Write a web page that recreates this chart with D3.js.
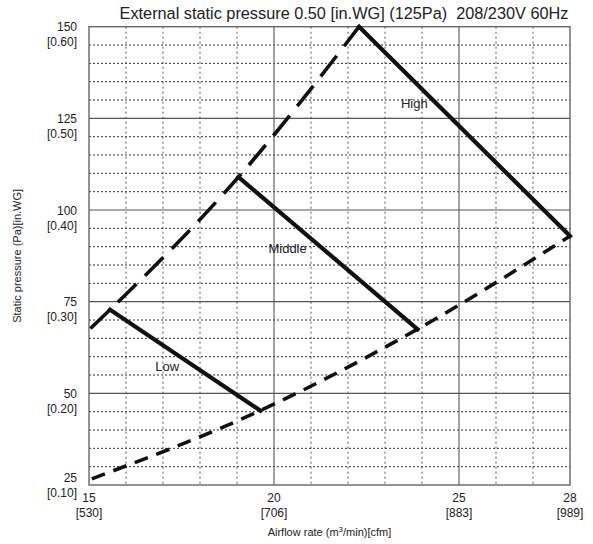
<!DOCTYPE html>
<html>
<head>
<meta charset="utf-8">
<script src="https://cdn.jsdelivr.net/npm/d3@7"></script>
<style>
  body { margin: 0; background: #fff; }
  svg { font-family: "Liberation Sans", Arial, sans-serif; }
</style>
</head>
<body>
<svg width="593" height="544"></svg>
<script>
// curve data: [airflow m3/min, static pressure Pa]
const high = [[22.3, 150], [28, 92.9]];
const middle = [[19.04, 109], [23.88, 67.5]];
const low = [[15.57, 72.8], [19.63, 45.3]];
const upperLimit = [[15, 67.3], [15.57, 72.8], [19.04, 109], [22.3, 150]];
const lowerLimit = [[15, 26.4], [19.63, 45.3], [23.88, 67.5], [28, 92.9]];

const xTicks = [15, 20, 25, 28];
const xTickCfm = ["[530]", "[706]", "[883]", "[989]"];
const yTicks = [25, 50, 75, 100, 125, 150];
const yTickWG = ["[0.10]", "[0.20]", "[0.30]", "[0.40]", "[0.50]", "[0.60]"];

const curveLabels = [
  { text: "High", x: 23.43, y: 127.8 },
  { text: "Middle", x: 19.85, y: 88.3 },
  { text: "Low", x: 16.79, y: 56.1 }
];

const svg = d3.select("svg");
const margin = { top: 26.7, right: 23, bottom: 59, left: 89 };
const width = +svg.attr("width") - margin.left - margin.right;
const height = +svg.attr("height") - margin.top - margin.bottom;

const x = d3.scaleLinear().domain([15, 28]).range([0, width]);
const y = d3.scaleLinear().domain([25, 150]).range([height, 0]);

svg.append("text")
  .attr("x", 344)
  .attr("y", 19)
  .attr("text-anchor", "middle")
  .attr("font-size", 16.3)
  .attr("fill", "#222")
  .style("white-space", "pre")
  .text("External static pressure 0.50 [in.WG] (125Pa)  208/230V 60Hz");

const g = svg.append("g")
  .attr("transform", `translate(${margin.left},${margin.top})`);

// dotted minor grid
const minorX = d3.range(16, 28).filter((d) => d % 5 !== 0);
const minorY = d3.range(30, 150, 5).filter((d) => d % 25 !== 0);

g.selectAll(".vminor")
  .data(minorX)
  .enter()
  .append("line")
  .attr("x1", (d) => x(d))
  .attr("x2", (d) => x(d))
  .attr("y1", 0)
  .attr("y2", height)
  .attr("stroke", "#555")
  .attr("stroke-width", 1)
  .attr("stroke-dasharray", "2,3");

g.selectAll(".hminor")
  .data(minorY)
  .enter()
  .append("line")
  .attr("x1", 0)
  .attr("x2", width)
  .attr("y1", (d) => y(d))
  .attr("y2", (d) => y(d))
  .attr("stroke", "#333")
  .attr("stroke-width", 1)
  .attr("stroke-dasharray", "2,2");

// solid major grid
g.selectAll(".vmajor")
  .data([20, 25])
  .enter()
  .append("line")
  .attr("x1", (d) => x(d))
  .attr("x2", (d) => x(d))
  .attr("y1", 0)
  .attr("y2", height)
  .attr("stroke", "#666")
  .attr("stroke-width", 1.2);

g.selectAll(".hmajor")
  .data([50, 75, 100, 125])
  .enter()
  .append("line")
  .attr("x1", 0)
  .attr("x2", width)
  .attr("y1", (d) => y(d))
  .attr("y2", (d) => y(d))
  .attr("stroke", "#555")
  .attr("stroke-width", 1.2);

g.append("rect")
  .attr("width", width)
  .attr("height", height)
  .attr("fill", "none")
  .attr("stroke", "#666")
  .attr("stroke-width", 1.4);

// axes labels
const xAxis = g.append("g").attr("transform", `translate(0,${height})`);
xAxis.selectAll(".xt")
  .data(xTicks)
  .enter()
  .append("text")
  .attr("x", (d) => x(d))
  .attr("y", 17)
  .attr("text-anchor", "middle")
  .attr("font-size", 12)
  .attr("fill", "#222")
  .text((d) => d);
xAxis.selectAll(".xc")
  .data(xTicks)
  .enter()
  .append("text")
  .attr("x", (d) => x(d))
  .attr("y", 32)
  .attr("text-anchor", "middle")
  .attr("font-size", 12)
  .attr("fill", "#222")
  .text((d, i) => xTickCfm[i]);

const yAxis = g.append("g");
const yOff = (d) => (d === 25 ? -7 : 0);
yAxis.selectAll(".yt")
  .data(yTicks)
  .enter()
  .append("text")
  .attr("x", -12)
  .attr("y", (d) => y(d) + yOff(d) + 4.5)
  .attr("text-anchor", "end")
  .attr("font-size", 12)
  .attr("fill", "#222")
  .text((d) => d);
yAxis.selectAll(".yw")
  .data(yTicks)
  .enter()
  .append("text")
  .attr("x", -12)
  .attr("y", (d) => y(d) + yOff(d) + 19.5)
  .attr("text-anchor", "end")
  .attr("font-size", 12)
  .attr("fill", "#222")
  .text((d, i) => yTickWG[i]);

svg.append("text")
  .attr("x", margin.left + width / 2)
  .attr("y", 536)
  .attr("text-anchor", "middle")
  .attr("font-size", 11)
  .attr("fill", "#222")
  .html("Airflow rate (m<tspan font-size='8' dy='-4'>3</tspan><tspan dy='4'>/min)[cfm]</tspan>");

svg.append("text")
  .attr("transform", `translate(21,${margin.top + height / 2}) rotate(-90)`)
  .attr("text-anchor", "middle")
  .attr("font-size", 11)
  .attr("fill", "#222")
  .text("Static pressure (Pa)[in.WG]");

// curves
const line = d3.line().x((d) => x(d[0])).y((d) => y(d[1]));
const smooth = d3.line().x((d) => x(d[0])).y((d) => y(d[1])).curve(d3.curveMonotoneX);

g.append("path")
  .datum(upperLimit)
  .attr("d", smooth)
  .attr("fill", "none")
  .attr("stroke", "#111")
  .attr("stroke-width", 3.6)
  .attr("stroke-dasharray", "26,12")
  .attr("stroke-dashoffset", 36);

g.append("path")
  .datum(lowerLimit)
  .attr("d", smooth)
  .attr("fill", "none")
  .attr("stroke", "#111")
  .attr("stroke-width", 3.6)
  .attr("stroke-dasharray", "14,9")
  .attr("stroke-dashoffset", 20);

[high, middle, low].forEach((c) => {
  g.append("path")
    .datum(c)
    .attr("d", line)
    .attr("fill", "none")
    .attr("stroke", "#111")
    .attr("stroke-width", 4.2)
    .attr("stroke-linecap", "square");
});

g.selectAll(".lbl")
  .data(curveLabels)
  .enter()
  .append("text")
  .attr("x", (d) => x(d.x))
  .attr("y", (d) => y(d.y))
  .attr("font-size", 13)
  .attr("fill", "#222")
  .text((d) => d.text);
</script>
</body>
</html>
